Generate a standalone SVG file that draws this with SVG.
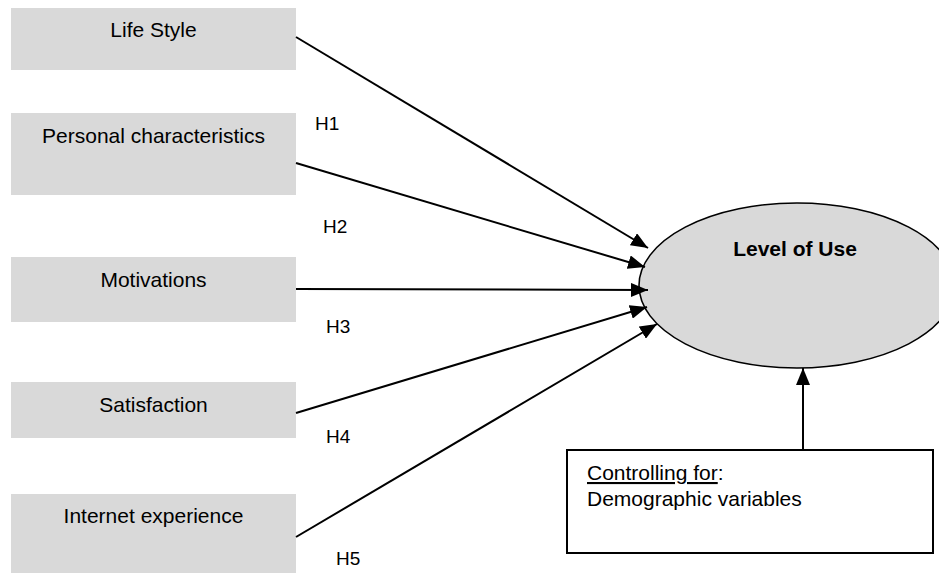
<svg xmlns="http://www.w3.org/2000/svg" width="939" height="573" viewBox="0 0 939 573">
<style>
.box{fill:#d9d9d9;stroke:none}
.lbl{font-family:"Liberation Sans",Arial,sans-serif;font-size:21px;fill:#000}
.hl{font-family:"Liberation Sans",Arial,sans-serif;font-size:19px;fill:#000}
.conn line{stroke:#000;stroke-width:2;fill:none;marker-end:url(#ah)}
</style>
<defs>
<marker id="ah" markerUnits="userSpaceOnUse" markerWidth="17" markerHeight="14" refX="17" refY="7" orient="auto">
<path d="M0,0 L17,7 L0,14 z" fill="#000"/>
</marker>
</defs>
<rect width="939" height="573" fill="#fff"/>
<g id="lifestyle"><rect class="box" x="11" y="8" width="285" height="62"/><text class="lbl" x="153.5" y="37" text-anchor="middle">Life Style</text></g>
<g id="personal"><rect class="box" x="11" y="113" width="285" height="82"/><text class="lbl" x="153.5" y="143" text-anchor="middle">Personal characteristics</text></g>
<g id="motivations"><rect class="box" x="11" y="257" width="285" height="65"/><text class="lbl" x="153.5" y="287" text-anchor="middle">Motivations</text></g>
<g id="satisfaction"><rect class="box" x="11" y="382" width="285" height="56"/><text class="lbl" x="153.5" y="412" text-anchor="middle">Satisfaction</text></g>
<g id="internet"><rect class="box" x="11" y="494" width="285" height="79"/><text class="lbl" x="153.5" y="523" text-anchor="middle">Internet experience</text></g>
<g id="level"><ellipse cx="797" cy="285.5" rx="158" ry="82.5" fill="#d9d9d9" stroke="#000" stroke-width="1.6"/><text class="lbl" x="795" y="256" text-anchor="middle" font-weight="bold">Level of Use</text></g>
<g id="control"><rect x="567" y="450" width="366" height="103" fill="#fff" stroke="#000" stroke-width="2"/><text class="lbl" x="587" y="480"><tspan text-decoration="underline">Controlling for</tspan>:</text><text class="lbl" x="587" y="506">Demographic variables</text></g>
<g id="connectors" class="conn">
<line x1="296" y1="37" x2="648" y2="248"/>
<line x1="296" y1="163" x2="645" y2="267"/>
<line x1="296" y1="289" x2="648" y2="290"/>
<line x1="296" y1="413" x2="647" y2="307"/>
<line x1="296" y1="537" x2="657" y2="324"/>
<line x1="803" y1="450" x2="803" y2="368"/>
</g>
<g id="hlabels">
<text class="hl" x="315" y="130">H1</text>
<text class="hl" x="323" y="233">H2</text>
<text class="hl" x="326" y="333">H3</text>
<text class="hl" x="326" y="443">H4</text>
<text class="hl" x="336" y="565">H5</text>
</g>
</svg>
